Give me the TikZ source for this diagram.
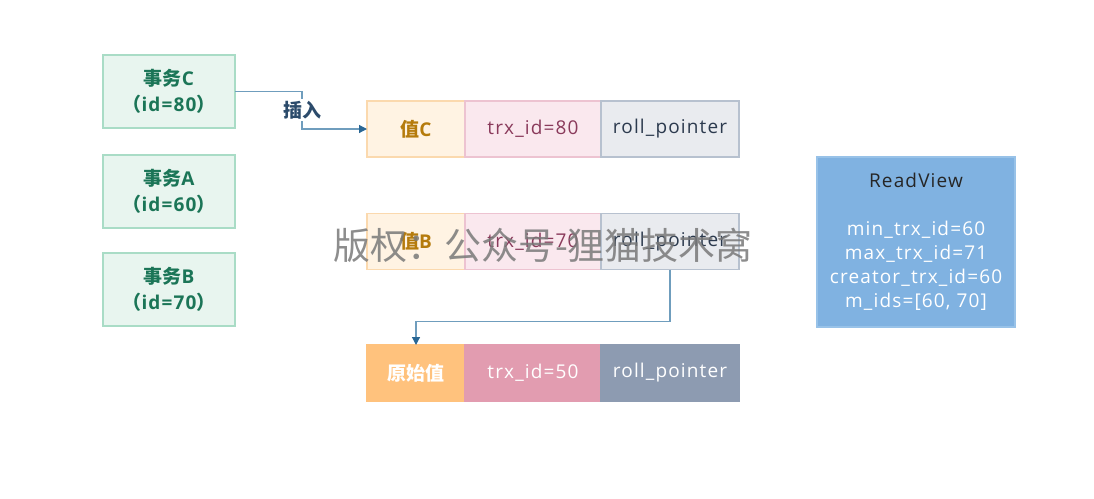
\documentclass[tikz,border=0pt]{standalone}
\usepackage{fontspec}
\setmainfont{Open Sans}[LetterSpace=6]
\newfontfamily\cjk{Noto Sans CJK SC}
\usetikzlibrary{positioning,arrows.meta}

\definecolor{txfill}{HTML}{E8F5EF}
\definecolor{txdraw}{HTML}{A9DCC6}
\definecolor{txtext}{HTML}{1B7557}
\definecolor{valfill}{HTML}{FFF3E3}
\definecolor{valdraw}{HTML}{FBD9AE}
\definecolor{valtext}{HTML}{B57B0C}
\definecolor{trxfill}{HTML}{FAE8EE}
\definecolor{trxdraw}{HTML}{EDC3D1}
\definecolor{trxtext}{HTML}{8A3A5B}
\definecolor{ptrfill}{HTML}{E9EBEF}
\definecolor{ptrdraw}{HTML}{B7C1CF}
\definecolor{ptrtext}{HTML}{2C3A4E}
\definecolor{orgval}{HTML}{FFC27D}
\definecolor{orgtrx}{HTML}{E29CB0}
\definecolor{orgptr}{HTML}{8D9BB1}
\definecolor{rvfill}{HTML}{80B2E1}
\definecolor{rvdraw}{HTML}{98C2E8}
\definecolor{linecol}{HTML}{6F9DBD}
\definecolor{arrowcol}{HTML}{2A6795}
\definecolor{labelcol}{HTML}{2C4B6B}

\begin{document}
\begin{tikzpicture}[
    x=1pt,y=-1pt,
    every node/.style={font=\fontsize{19pt}{24pt}\selectfont,inner sep=0pt,outer sep=0pt,align=center},
    txbox/.style={draw=txdraw,fill=txfill,text=txtext,line width=1.2pt,minimum width=132pt,minimum height=73pt,font=\fontsize{19pt}{26pt}\selectfont\bfseries},
    cell/.style={line width=1.2pt,minimum height=56pt},
    valcell/.style={cell,draw=valdraw,fill=valfill,text=valtext,minimum width=98pt,font=\fontsize{19pt}{24pt}\selectfont\bfseries},
    trxcell/.style={cell,draw=trxdraw,fill=trxfill,text=trxtext,minimum width=136pt},
    ptrcell/.style={cell,draw=ptrdraw,fill=ptrfill,text=ptrtext,minimum width=138pt},
    link/.style={draw=linecol,line width=1.2pt,-{Triangle[length=8pt,width=8pt,color=arrowcol]}}
]
    \useasboundingbox (0,0) rectangle (1094,498);
    %Transactions
    \node[txbox] (txC) at (169,91.5) {{\cjk 事务}C\\{\cjk （}id=80{\cjk ）}};
    \node[txbox] (txA) at (169,191.5) {{\cjk 事务}A\\{\cjk （}id=60{\cjk ）}};
    \node[txbox] (txB) at (169,289.5) {{\cjk 事务}B\\{\cjk （}id=70{\cjk ）}};
    %Version C
    \node[valcell] (valC) at (416,129) {{\cjk 值}C};
    \node[trxcell,right=0pt of valC] (trxC) {trx\_id=80};
    \node[ptrcell,right=0pt of trxC] (ptrC) {roll\_pointer};
    %Version B
    \node[valcell] (valB) at (416,241.5) {{\cjk 值}B};
    \node[trxcell,right=0pt of valB] (trxB) {trx\_id=70};
    \node[ptrcell,right=0pt of trxB] (ptrB) {roll\_pointer};
    %Original
    \node[valcell,draw=orgval,fill=orgval,text=white] (valO) at (416,373) {{\cjk 原始值}};
    \node[trxcell,draw=orgtrx,fill=orgtrx,text=white,right=0pt of valO] (trxO) {trx\_id=50};
    \node[ptrcell,draw=orgptr,fill=orgptr,text=white,right=0pt of trxO] (ptrO) {roll\_pointer};
    %ReadView
    \node[draw=rvdraw,fill=rvfill,text=white,line width=1.2pt,minimum width=198pt,minimum height=170pt] (rv) at (916,242)
        {\textcolor{black!85}{ReadView}\\[24pt]min\_trx\_id=60\\max\_trx\_id=71\\creator\_trx\_id=60\\m\_ids=[60, 70]};
    %Links
    \draw[link] (txC.east) -- ++(67,0) |- node[pos=0.25,fill=white,text=labelcol,inner sep=2pt,font=\fontsize{19pt}{20pt}\selectfont\cjk\bfseries] (ins) {插入} (valC.west);
    \draw[link] (ptrB.south) -- ++(0,52) -| (valO.north);
    %Watermark
    \node[text=gray!95!black,text opacity=0.85,font=\fontsize{37pt}{40pt}\selectfont\cjk] (wm) at (543,245) {版权：公众号-狸猫技术窝};
\end{tikzpicture}
\end{document}
